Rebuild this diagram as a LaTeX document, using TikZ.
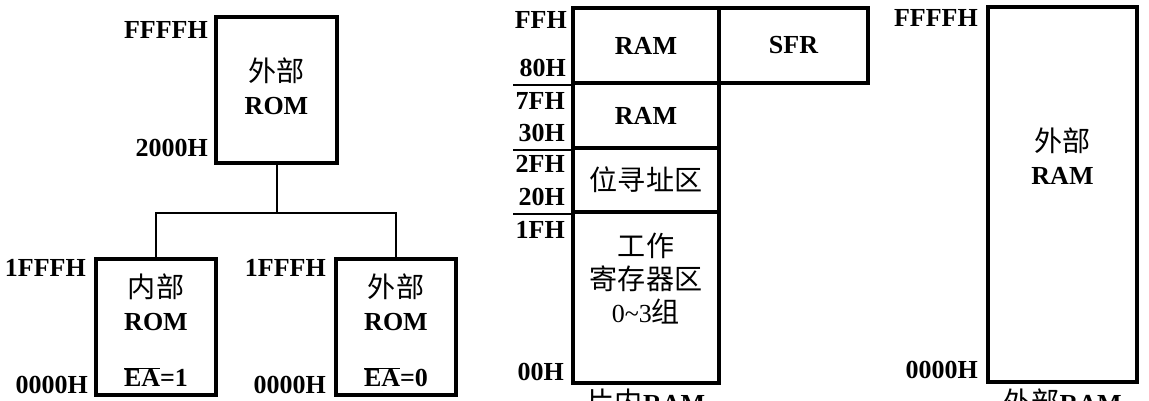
\documentclass[tikz,border=0pt]{standalone}
\usepackage{fontspec}
\setmainfont{Liberation Serif}
\newfontfamily\cjk{Noto Sans CJK SC}[Scale=1.08]
\newcommand{\cjktext}[1]{{\mdseries\cjk #1}}
\usetikzlibrary{positioning}
\tikzset{
  membox/.style={draw, line width=3.5pt, inner sep=0pt, align=center},
  addr/.style={anchor=east, inner sep=0pt},
  wire/.style={line width=2pt}
}
\begin{document}
\begin{tikzpicture}[x=1pt,y=-1pt,font=\fontsize{26}{33}\selectfont\bfseries]
\useasboundingbox (0,0) rectangle (1149,400);
\clip (0,0) rectangle (1149,400);

% ROM boxes
\node[membox, line width=4pt, minimum width=121pt, minimum height=146pt] (extrom) at (276.5,90) {};
\node[membox, line width=4pt, minimum width=120pt, minimum height=136pt] (inrom) at (156,327) {};
\node[membox, line width=4pt, minimum width=120pt, minimum height=136pt] (extromb) at (396,327) {};

% Tree between the ROM boxes
\draw[wire] (extrom.south) -- ++(0,48) coordinate (fork);
\draw[wire] (fork) -| (inrom.north);
\draw[wire] (fork) -| (extromb.north);

% Texts in the ROM boxes
\node[align=center] (extromtxt) at (276.5,86) {\cjktext{外部}\\ROM};
\node[align=center] (inromtxt) at (156,302) {\cjktext{内部}\\ROM};
\node[align=center] (extrombtxt) at (396,302) {\cjktext{外部}\\ROM};
\node (eaone) at (156,377) {$\overline{\mbox{EA}}$=1};
\node (eazero) at (396,377) {$\overline{\mbox{EA}}$=0};

% ROM addresses
\node[addr] (romtop) at (208,30) {FFFFH};
\node[addr] (rombase) at (208,148) {2000H};
\node[addr] (intop) at (86,268) {1FFFH};
\node[addr] (inbase) at (88,385) {0000H};
\node[addr] (extop) at (326,268) {1FFFH};
\node[addr] (exbase) at (326,385) {0000H};

% On-chip RAM
\node[membox, minimum width=146pt, minimum height=75pt] (ramhi) at (646,45.5) {RAM};
\node[membox, minimum width=146pt, minimum height=65pt] (ramlo) at (646,115.5) {RAM};
\node[membox, minimum width=146pt, minimum height=64pt] (bitarea) at (646,180) {\cjktext{位寻址区}};
\node[membox, minimum width=146pt, minimum height=171pt] (regs) at (646,297.5) {\cjktext{工作}\\\cjktext{寄存器区}\\{\mdseries 0\textasciitilde 3}\cjktext{组}\\[6pt]};
\node[membox, minimum width=149pt, minimum height=75pt] (sfr) at (793.5,45.5) {SFR};

% Dividing marks
\draw[wire] (ramhi.south west) -- ++(-58,0);
\draw[wire] (ramlo.south west) -- ++(-58,0);
\draw[wire] (bitarea.south west) -- ++(-58,0);

% On-chip RAM addresses
\node[addr] (ffh) at (567,20) {FFH};
\node[addr] (h80) at (566,68) {80H};
\node[addr] (h7f) at (565,101) {7FH};
\node[addr] (h30) at (565,133) {30H};
\node[addr] (h2f) at (565,164) {2FH};
\node[addr] (h20) at (565,197) {20H};
\node[addr] (h1f) at (565,230) {1FH};
\node[addr] (h00) at (564,372) {00H};
\node[anchor=north, inner sep=0pt] (oncap) at (646,389) {\cjktext{片内}RAM};

% External RAM
\node[membox, minimum width=149pt, minimum height=375pt] (extram) at (1062.5,194.5) {};
\node[align=center] (extramtxt) at (1062.5,156) {\cjktext{外部}\\RAM};
\node[addr] (ramtop) at (978,18) {FFFFH};
\node[addr] (rambase) at (978,370) {0000H};
\node[anchor=north, inner sep=0pt] (extcap) at (1062.5,389) {\cjktext{外部}RAM};
\end{tikzpicture}
\end{document}
